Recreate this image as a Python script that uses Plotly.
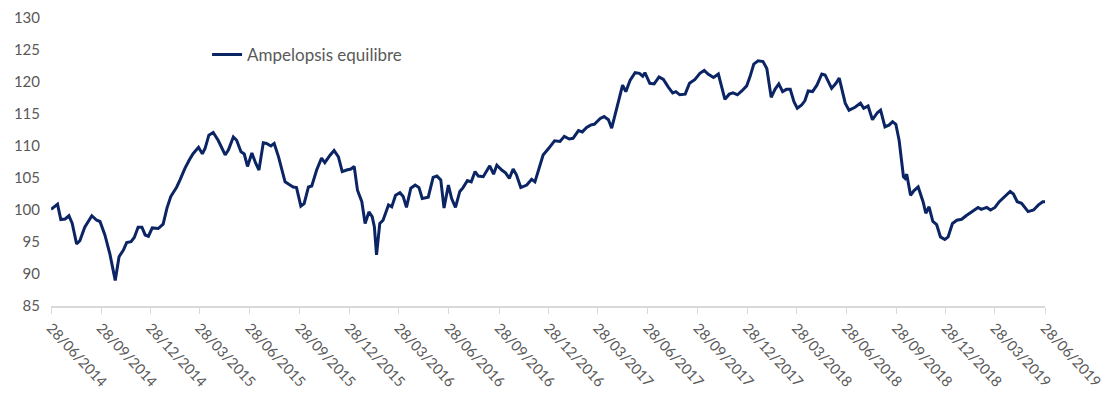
import plotly.graph_objects as go

dates = [
    "2014-06-28", "2014-07-10", "2014-07-16", "2014-07-24", "2014-07-31", "2014-08-06", "2014-08-14", "2014-08-20",
    "2014-08-29", "2014-09-11", "2014-09-20", "2014-09-26", "2014-10-05", "2014-10-14", "2014-10-24", "2014-10-31",
    "2014-11-08", "2014-11-14", "2014-11-22", "2014-11-28", "2014-12-05", "2014-12-12", "2014-12-18", "2014-12-24",
    "2014-12-31", "2015-01-11", "2015-01-20", "2015-01-27", "2015-02-03", "2015-02-14", "2015-02-20", "2015-03-01",
    "2015-03-09", "2015-03-16", "2015-03-26", "2015-04-02", "2015-04-07", "2015-04-14", "2015-04-22", "2015-05-01",
    "2015-05-14", "2015-05-20", "2015-05-29", "2015-06-04", "2015-06-12", "2015-06-18", "2015-06-24", "2015-07-02",
    "2015-07-09", "2015-07-15", "2015-07-23", "2015-07-29", "2015-08-06", "2015-08-12", "2015-08-20", "2015-09-01",
    "2015-09-10", "2015-09-16", "2015-09-22", "2015-09-30", "2015-10-06", "2015-10-14", "2015-10-20", "2015-10-29",
    "2015-11-07", "2015-11-13", "2015-11-23", "2015-11-30", "2015-12-08", "2015-12-15", "2015-12-23", "2015-12-31",
    "2016-01-06", "2016-01-12", "2016-01-20", "2016-01-26", "2016-02-02", "2016-02-08", "2016-02-12", "2016-02-16",
    "2016-02-22", "2016-02-28", "2016-03-09", "2016-03-15", "2016-03-22", "2016-03-30", "2016-04-05", "2016-04-11",
    "2016-04-19", "2016-04-27", "2016-05-04", "2016-05-10", "2016-05-21", "2016-05-30", "2016-06-06", "2016-06-13",
    "2016-06-19", "2016-06-27", "2016-07-03", "2016-07-10", "2016-07-18", "2016-07-24", "2016-08-01", "2016-08-08",
    "2016-08-15", "2016-08-21", "2016-08-30", "2016-09-05", "2016-09-11", "2016-09-18", "2016-09-24", "2016-10-03",
    "2016-10-10", "2016-10-17", "2016-10-24", "2016-10-30", "2016-11-07", "2016-11-18", "2016-11-27", "2016-12-03",
    "2016-12-10", "2016-12-18", "2016-12-28", "2017-01-08", "2017-01-18", "2017-01-26", "2017-02-04", "2017-02-11",
    "2017-02-21", "2017-02-28", "2017-03-08", "2017-03-16", "2017-03-22", "2017-04-02", "2017-04-09", "2017-04-17",
    "2017-04-23", "2017-05-01", "2017-05-07", "2017-05-13", "2017-05-19", "2017-05-27", "2017-06-05", "2017-06-13",
    "2017-06-19", "2017-06-23", "2017-07-02", "2017-07-10", "2017-07-19", "2017-07-27", "2017-08-05", "2017-08-13",
    "2017-08-19", "2017-08-26", "2017-09-05", "2017-09-13", "2017-09-23", "2017-10-02", "2017-10-10", "2017-10-17",
    "2017-10-27", "2017-11-05", "2017-11-17", "2017-11-25", "2017-12-02", "2017-12-10", "2017-12-18", "2017-12-27",
    "2018-01-02", "2018-01-09", "2018-01-17", "2018-01-26", "2018-02-02", "2018-02-10", "2018-02-17", "2018-02-24",
    "2018-03-03", "2018-03-10", "2018-03-17", "2018-03-24", "2018-03-30", "2018-04-07", "2018-04-13", "2018-04-19",
    "2018-04-27", "2018-05-05", "2018-05-14", "2018-05-20", "2018-06-01", "2018-06-09", "2018-06-15", "2018-06-26",
    "2018-07-03", "2018-07-14", "2018-07-24", "2018-07-30", "2018-08-07", "2018-08-15", "2018-08-24", "2018-08-30",
    "2018-09-07", "2018-09-15", "2018-09-21", "2018-09-27", "2018-10-03", "2018-10-08", "2018-10-11", "2018-10-14",
    "2018-10-17", "2018-10-24", "2018-10-30", "2018-11-07", "2018-11-16", "2018-11-21", "2018-11-27", "2018-12-04",
    "2018-12-11", "2018-12-18", "2018-12-26", "2019-01-01", "2019-01-09", "2019-01-17", "2019-01-26", "2019-02-03",
    "2019-02-13", "2019-02-25", "2019-03-03", "2019-03-13", "2019-03-20", "2019-03-28", "2019-04-05", "2019-04-16",
    "2019-04-25", "2019-05-01", "2019-05-08", "2019-05-16", "2019-05-28", "2019-06-07", "2019-06-16", "2019-06-24",
    "2019-06-28",
]

values = [
    100.1, 100.9, 98.5, 98.6, 99.1, 97.9, 94.7, 95.2,
    97.3, 99.1, 98.4, 98.2, 96.1, 93.2, 89.0, 92.7,
    93.75, 94.9, 95.05, 95.7, 97.3, 97.3, 96.1, 95.9,
    97.2, 97.1, 97.8, 100.3, 102.1, 103.6, 104.7, 106.5,
    107.8, 108.8, 109.8, 108.8, 109.6, 111.7, 112.1, 110.9,
    108.6, 109.4, 111.4, 110.9, 109.1, 108.75, 106.8, 108.9,
    107.3, 106.25, 110.5, 110.4, 110.0, 110.4, 108.3, 104.4,
    103.9, 103.6, 103.5, 100.6, 101.0, 103.6, 103.75, 106.25,
    108.1, 107.4, 108.6, 109.3, 108.3, 106.0, 106.25, 106.4,
    106.8, 103.1, 101.3, 97.9, 99.7, 98.95, 97.4, 93.0,
    97.9, 98.4, 100.8, 100.5, 102.3, 102.7, 102.1, 100.4,
    103.4, 103.9, 103.5, 101.8, 102.0, 105.1, 105.3, 104.7,
    100.3, 103.9, 101.8, 100.4, 102.9, 103.5, 104.6, 104.4,
    106.0, 105.3, 105.2, 106.0, 106.9, 105.6, 107.0, 106.25,
    105.8, 104.95, 106.4, 105.5, 103.5, 103.9, 104.8, 104.4,
    106.25, 108.6, 109.6, 110.8, 110.7, 111.5, 111.1, 111.2,
    112.4, 112.2, 112.9, 113.3, 113.4, 114.3, 114.6, 114.1,
    112.8, 115.6, 117.4, 119.5, 118.5, 120.3, 121.45, 121.35,
    120.9, 121.45, 119.8, 119.7, 120.8, 120.4, 119.2, 118.3,
    118.5, 118.0, 118.1, 119.8, 120.4, 121.35, 121.8, 121.25,
    120.7, 121.25, 117.3, 118.1, 118.3, 118.0, 118.6, 119.4,
    120.8, 122.8, 123.3, 123.2, 122.1, 117.6, 118.85, 119.7,
    118.5, 118.85, 118.85, 116.9, 115.9, 116.4, 117.1, 118.6,
    118.5, 119.5, 121.25, 121.1, 119.0, 119.8, 120.6, 116.7,
    115.6, 116.05, 116.7, 115.9, 116.25, 114.1, 115.2, 115.6,
    113.0, 113.3, 113.8, 113.4, 110.9, 107.8, 105.2, 104.95,
    105.6, 102.3, 103.0, 103.6, 101.3, 99.5, 100.5, 98.2,
    97.7, 95.8, 95.4, 95.8, 97.9, 98.4, 98.55, 99.1,
    99.75, 100.4, 100.1, 100.4, 100.0, 100.4, 101.3, 102.1,
    102.9, 102.5, 101.3, 101.05, 99.75, 100.0, 100.8, 101.3,
    101.3,
]

tick_dates = [
    "2014-06-28", "2014-09-28", "2014-12-28", "2015-03-28", "2015-06-28", "2015-09-28", "2015-12-28",
    "2016-03-28", "2016-06-28", "2016-09-28", "2016-12-28", "2017-03-28", "2017-06-28", "2017-09-28",
    "2017-12-28", "2018-03-28", "2018-06-28", "2018-09-28", "2018-12-28", "2019-03-28", "2019-06-28",
]
tick_labels = [
    "28/06/2014", "28/09/2014", "28/12/2014", "28/03/2015", "28/06/2015", "28/09/2015", "28/12/2015",
    "28/03/2016", "28/06/2016", "28/09/2016", "28/12/2016", "28/03/2017", "28/06/2017", "28/09/2017",
    "28/12/2017", "28/03/2018", "28/06/2018", "28/09/2018", "28/12/2018", "28/03/2019", "28/06/2019",
]
y_ticks = [85, 90, 95, 100, 105, 110, 115, 120, 125, 130]

series_name = "Ampelopsis equilibre"
line_color = "#0b2463"
text_color = "#595959"
font_family = "Lato, Open Sans, Liberation Sans, sans-serif"

fig = go.Figure()
fig.add_trace(go.Scatter(
    x=dates, y=values, mode="lines", name=series_name,
    line=dict(color=line_color, width=3),
))

fig.update_layout(
    width=1111, height=400,
    margin=dict(l=43, r=74, t=10, b=102),
    plot_bgcolor="white", paper_bgcolor="white",
    font=dict(family=font_family, size=14, color=text_color),
    showlegend=True,
    legend=dict(
        x=0.157, y=0.872, xanchor="left", yanchor="middle",
        bgcolor="rgba(0,0,0,0)", font=dict(size=17, color=text_color),
        itemwidth=30,
    ),
    xaxis=dict(
        type="date",
        range=["2014-06-28", "2019-06-28"],
        tickmode="array", tickvals=tick_dates, ticktext=tick_labels,
        tickangle=47,
        showgrid=False, zeroline=False,
        showline=True, linecolor="#d9d9d9", linewidth=2,
        ticks="outside", ticklen=6, tickcolor="#d9d9d9", tickwidth=1,
        tickfont=dict(size=14.5, color=text_color),
        automargin=False,
    ),
    yaxis=dict(
        range=[85, 130],
        tickmode="array", tickvals=y_ticks,
        showgrid=False, zeroline=False, showline=False,
        ticks="", ticklabelstandoff=10,
        tickfont=dict(size=15, color=text_color),
        automargin=False,
    ),
)

fig.write_html("out.html")
